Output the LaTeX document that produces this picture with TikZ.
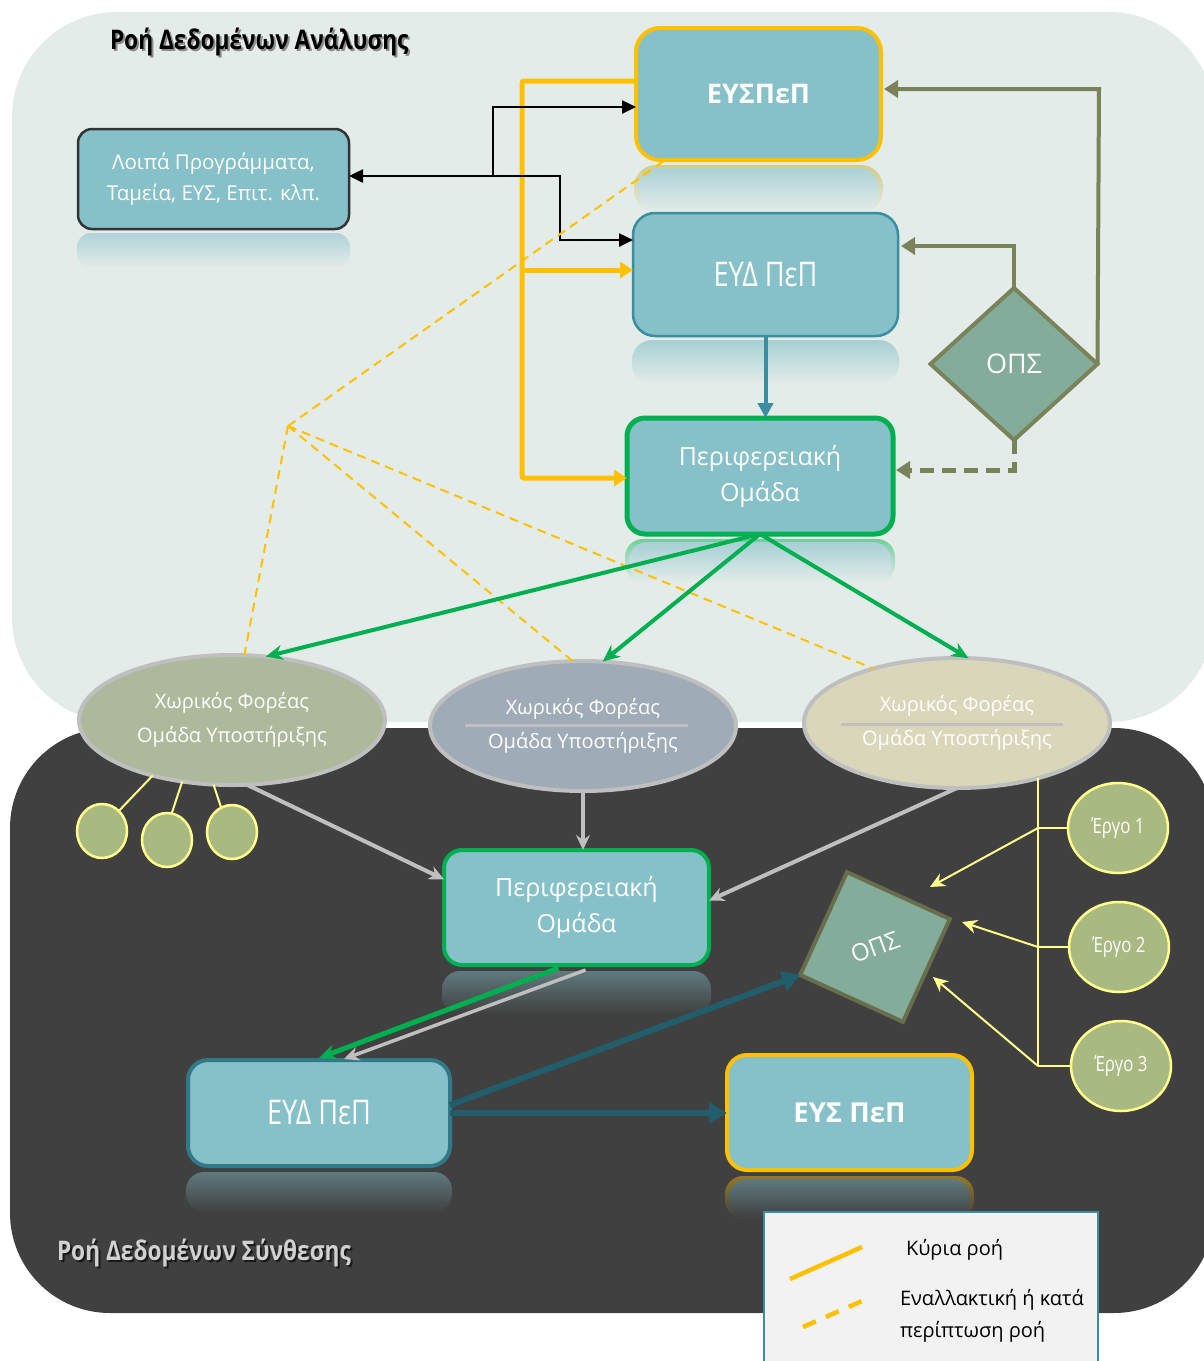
\documentclass[tikz,border=0pt]{standalone}
\usepackage{fontspec}
\setmainfont{Open Sans}
\newfontfamily\condfont[FakeStretch=0.8]{Open Sans}
\newfontfamily\titlefont[FakeStretch=0.84]{Open Sans}
\usetikzlibrary{arrows.meta,shapes.geometric,calc}
\definecolor{bgtop}{HTML}{E3ECE9}
\definecolor{bgdark}{HTML}{404040}
\definecolor{boxfill}{HTML}{86C0C9}
\definecolor{yel}{HTML}{FFC000}
\definecolor{tealb}{HTML}{3A8EA0}
\definecolor{grn}{HTML}{00B050}
\definecolor{olive}{HTML}{7A8259}
\definecolor{opsfill}{HTML}{84AC9B}
\definecolor{ellLc}{HTML}{ADB99A}
\definecolor{ellMc}{HTML}{A0ABB8}
\definecolor{ellRc}{HTML}{D9D6B9}
\definecolor{ellB}{HTML}{BFBFBF}
\definecolor{circ}{HTML}{A9B982}
\definecolor{circB}{HTML}{FFFF8C}
\definecolor{darkteal}{HTML}{215D6B}
\definecolor{legbg}{HTML}{F2F2F2}
\definecolor{lpborder}{HTML}{333333}
\begin{document}
\begin{tikzpicture}[x=1pt,y=-1pt,
  every node/.style={inner sep=0pt, outer sep=0pt},
  box/.style={rectangle, fill=boxfill, text=white, align=center},
  ellnode/.style={ellipse, draw=ellB, line width=4pt, minimum width=306pt, minimum height=130pt, text=white, align=center, font=\fontsize{20}{34}\selectfont},
  smallc/.style={ellipse, draw=circB, line width=2.5pt, fill=circ, minimum width=50pt, minimum height=54pt},
  ergo/.style={ellipse, draw=circB, line width=2.5pt, fill=circ, minimum width=100pt, minimum height=90pt, text=white, font=\condfont\fontsize{21}{24}\selectfont},
  titlestyle/.style={anchor=west, font=\titlefont\bfseries\fontsize{27}{30}\selectfont},
  yelflow/.style={draw=yel, line width=5pt, rounded corners=2pt, -{Triangle[length=13pt,width=16pt]}},
  blkflow/.style={draw=black, line width=2.5pt, -{Triangle[length=14pt,width=13pt]}},
  oliveflow/.style={draw=olive, line width=4pt, -{Triangle[length=14pt,width=17pt]}, shorten >=3pt},
  tealflow/.style={draw=tealb, line width=4pt, -{Triangle[length=15pt,width=15pt]}},
  altflow/.style={draw=yel, line width=2pt, dash pattern=on 9pt off 6pt},
  greenflow/.style={draw=grn, line width=4pt, -{Stealth[length=17pt,width=15pt]}},
  grayflow/.style={draw=ellB, line width=4pt, -{Stealth[length=15pt,width=14pt]}},
  thinyel/.style={draw=circB, line width=2pt},
  thinyelarrow/.style={draw=circB, line width=2pt, -{Stealth[length=15pt,width=14pt]}},
  dtflow/.style={draw=darkteal, line width=6pt, -{Triangle[length=18pt,width=20pt]}}
]
\useasboundingbox (0,0) rectangle (1203,1361);
% backgrounds
\fill[bgtop, rounded corners=105pt] (12,12) rectangle (1214,722);
\fill[bgdark, rounded corners=100pt] (10,728) rectangle (1214,1313);
% reflections
\shade[top color=boxfill!55!bgtop, bottom color=bgtop, rounded corners=14pt] (77,233) rectangle (350,268);
\shade[top color=boxfill!45!yel!70!bgtop, bottom color=bgtop, rounded corners=22pt] (634,165) rectangle (883,212);
\shade[top color=boxfill!60!bgtop, bottom color=bgtop, rounded corners=20pt] (638,168) rectangle (879,212);
\shade[top color=boxfill!65!bgtop, bottom color=bgtop, rounded corners=20pt] (632,340) rectangle (899,384);
\shade[top color=grn!50!bgtop, bottom color=bgtop, rounded corners=18pt] (625,539) rectangle (895,582);
\shade[top color=boxfill!65!bgtop, bottom color=bgtop, rounded corners=18pt] (629,542) rectangle (891,582);
\shade[top color=boxfill!45!bgdark, bottom color=bgdark, rounded corners=18pt] (442,971) rectangle (711,1014);
\shade[top color=boxfill!45!bgdark, bottom color=bgdark, rounded corners=18pt] (186,1172) rectangle (452,1212);
\shade[top color=yel!45!bgdark, bottom color=bgdark, rounded corners=18pt] (725,1176) rectangle (974,1218);
\shade[top color=boxfill!45!bgdark, bottom color=bgdark, rounded corners=18pt] (729,1179) rectangle (970,1218);
% titles
\node[titlestyle, text=black!45] (t1s) at (112,44) {Ροή Δεδομένων Ανάλυσης};
\node[titlestyle, text=black] (t1) at (110,42) {Ροή Δεδομένων Ανάλυσης};
\node[titlestyle, text=black!90] (t2s) at (59,1255) {Ροή Δεδομένων Σύνθεσης};
\node[titlestyle, text=black!18] (t2) at (57,1253) {Ροή Δεδομένων Σύνθεσης};
% top nodes
\node[box, draw=lpborder, line width=2.5pt, minimum width=271pt, minimum height=100pt, rounded corners=14pt, font=\fontsize{20.5}{31}\selectfont] (lp) at (213.5,179) {Λοιπά Προγράμματα,\\Ταμεία, ΕΥΣ, Επιτ. κλπ.};
\node[box, draw=yel, line width=4pt, minimum width=245pt, minimum height=132pt, rounded corners=24pt, font=\bfseries\fontsize{27}{30}\selectfont] (eysp) at (758.5,94) {ΕΥΣΠεΠ};
\node[box, draw=tealb, line width=2.5pt, minimum width=265pt, minimum height=123pt, rounded corners=22pt, font=\condfont\fontsize{34}{38}\selectfont] (eyd1) at (765.5,274.5) {ΕΥΔ ΠεΠ};
\node[box, draw=grn, line width=5pt, minimum width=266pt, minimum height=116pt, rounded corners=18pt, font=\fontsize{25}{36}\selectfont] (per1) at (760,476) {Περιφερειακή\\Ομάδα};
\node[diamond, draw=olive, line width=4pt, fill=opsfill, minimum width=167pt, minimum height=152pt, text=white, font=\fontsize{27}{30}\selectfont] (ops) at (1014,364) {ΟΠΣ};
% ellipses
\node[ellnode, fill=ellLc] (ellL) at (232,720) {Χωρικός Φορέας\\Ομάδα Υποστήριξης};
\node[ellnode, fill=ellMc] (ellM) at (583,726) {Χωρικός Φορέας\\Ομάδα Υποστήριξης};
\node[ellnode, fill=ellRc] (ellR) at (957,723) {Χωρικός Φορέας\\Ομάδα Υποστήριξης};
\draw[draw=ellB, line width=3pt] ($(ellM.center)+(-118,-1)$) -- ($(ellM.center)+(105,-1)$);
\draw[draw=ellB, line width=3pt] ($(ellR.center)+(-116,1)$) -- ($(ellR.center)+(106,1)$);
% small circles
\node[smallc] (c1) at (102,831) {};
\node[smallc] (c2) at (167,840) {};
\node[smallc] (c3) at (232,832) {};
% bottom nodes
\node[box, draw=grn, line width=4pt, minimum width=265pt, minimum height=115pt, rounded corners=18pt, font=\fontsize{25}{36}\selectfont] (per2) at (576.5,907.5) {Περιφερειακή\\Ομάδα};
\node[rectangle, draw=olive!85!black, line width=4pt, fill=opsfill, minimum size=113pt, rotate=-24.5] (ops2) at (875,947) {};
\node[text=white, rotate=20, font=\fontsize{24}{28}\selectfont] (ops2t) at (ops2.center) {ΟΠΣ};
\node[ergo] (er1) at (1118,828) {Έργο 1};
\node[ergo] (er2) at (1119,947) {Έργο 2};
\node[ergo] (er3) at (1121,1066) {Έργο 3};
\node[box, draw=tealb!85!black, line width=4pt, minimum width=262pt, minimum height=106pt, rounded corners=20pt, font=\condfont\fontsize{34}{38}\selectfont] (eyd2) at (319,1113) {ΕΥΔ ΠεΠ};
\node[box, draw=yel, line width=4pt, minimum width=245pt, minimum height=115pt, rounded corners=20pt, font=\bfseries\fontsize{27.5}{30}\selectfont] (eys2) at (849.5,1112.5) {ΕΥΣ ΠεΠ};
% coordinates
\coordinate (y1) at (522,81);
\coordinate (y2) at (522,478);
\coordinate (y3) at (522,270);
\coordinate (J) at (493,176);
\coordinate (b1) at (493,107);
\coordinate (b2) at (560,176);
\coordinate (b3) at (560,240);
\coordinate (o1) at (1099,89);
\coordinate (o2) at (1014,246);
\coordinate (o3) at (1014,470);
\coordinate (H) at (288,426);
\coordinate (v0) at (1038,778);
\coordinate (v1) at (1038,828);
\coordinate (v2) at (1038,947);
\coordinate (v3) at (1038,1066);
\coordinate (ta1) at (930,887);
\coordinate (ta2) at (962,922);
\coordinate (ta3) at (933,977);
% yellow main flow
\draw[yelflow] (eysp.west |- y1) -- (y1) -- (y2) -- (per1.west |- y2);
\draw[yelflow] (y3) -- (eyd1.west |- y3);
% black
\draw[blkflow] (J) -- (lp.east |- J);
\draw[blkflow] (J) -- (b1) -- (eysp.west |- b1);
\draw[blkflow] (J) -- (b2) -- (b3) -- (eyd1.west |- b3);
% olive
\draw[oliveflow] (ops.east) -- (o1) -- (eysp.east |- o1);
\draw[oliveflow] (ops.north) -- (o2) -- (eyd1.east |- o2);
\draw[oliveflow, line width=5pt, dash pattern=on 14pt off 8pt] (ops.south) -- (o3) -- (per1.east |- o3);
% teal
\draw[tealflow] (eyd1.south) -- (eyd1.south |- per1.north);
% alternative flow
\draw[altflow] (H) -- (eysp);
\draw[altflow] (H) -- (ellL);
\draw[altflow] (H) -- (ellM.99);
\draw[altflow] (H) -- (ellR.147);
% green
\draw[greenflow] (per1.south) -- (ellL.62);
\draw[greenflow] (per1.south) -- (ellM.73);
\draw[greenflow] (per1.south) -- (ellR.80);
% gray
\draw[grayflow] (ellL.-77) -- (per2.168);
\draw[grayflow] (ellM.south) -- (ellM.south |- per2.north);
\draw[grayflow] (ellR.south) -- (per2.3);
% small circle links
\draw[thinyel] (ellL.215) -- (c1.50);
\draw[thinyel] (ellL.231) -- (c2.80);
\draw[thinyel] (ellL.254) -- (c3.114);
% ergo links
\draw[thinyel] (v0) -- (v3);
\draw[thinyel] (v1) -- (er1.west);
\draw[thinyel] (v2) -- (er2.west);
\draw[thinyel] (v3) -- (er3.west);
\draw[thinyelarrow] (v1) -- (ta1);
\draw[thinyelarrow] (v2) -- (ta2);
\draw[thinyelarrow] (v3) -- (ta3);
% bottom flows
\draw[greenflow, line width=5pt] ($(per2.south)+(-18,3)$) -- ($(eyd2.north)+(0,-2)$);
\draw[grayflow, line width=3.5pt] ($(per2.south)+(9,5)$) -- ($(eyd2.north)+(25,-1)$);
\draw[dtflow] (eyd2.east) -- (eyd2.east -| eys2.west);
\draw[dtflow] ($(eyd2.east)+(0,-8)$) -- (ops2.south west);
% legend
\node[draw=tealb, line width=2pt, fill=legbg, minimum width=334pt, minimum height=175pt, anchor=north west] (leg) at (764,1212) {};
\coordinate (l1a) at (790,1279);
\coordinate (l1b) at (862,1247);
\coordinate (l2a) at (803,1327);
\coordinate (l2b) at (871,1297);
\draw[draw=yel, line width=4.5pt] (l1a) -- (l1b);
\draw[draw=yel, line width=4.5pt, dash pattern=on 14pt off 11pt] (l2a) -- (l2b);
\node[anchor=west, text=black, font=\fontsize{20}{24}\selectfont] (lt1) at (906,1250) {Κύρια ροή};
\node[anchor=west, align=left, text=black, font=\fontsize{20}{32}\selectfont] (lt2) at (900,1316) {Εναλλακτική ή κατά\\περίπτωση ροή};
\end{tikzpicture}
\end{document}
